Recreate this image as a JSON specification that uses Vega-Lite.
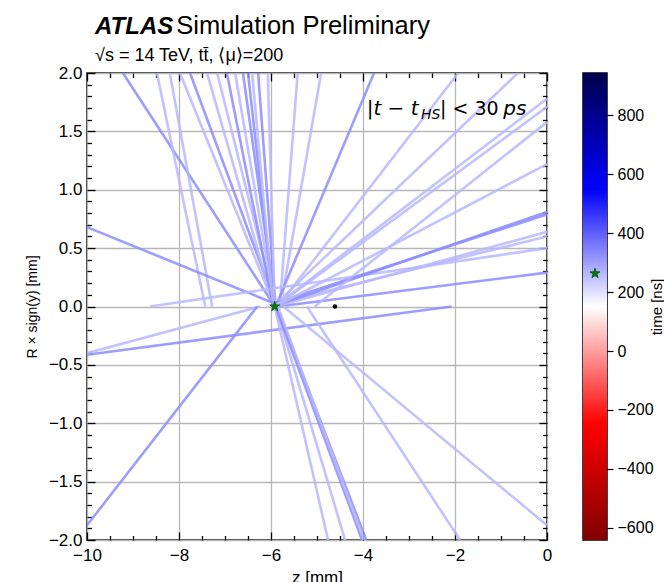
{
  "$schema": "https://vega.github.io/schema/vega-lite/v6.json",
  "background": "white",
  "padding": {"left": 24, "top": 13, "right": 0, "bottom": 0},
  "autosize": {"type": "pad"},
  "config": {
    "font": "Liberation Sans",
    "view": {"stroke": "black", "strokeWidth": 1.5},
    "axis": {"labelFont": "Liberation Sans", "titleFont": "Liberation Sans", "labelColor": "black", "titleColor": "black", "titleFontWeight": "normal"}
  },
  "datasets": {
    "tracks": [
      {"z1": -5.95, "r1": 0.02, "z2": -9.22, "r2": 2.0, "time": 330},
      {"z1": -7.43, "r1": 0.0, "z2": -8.48, "r2": 2.0, "time": 263},
      {"z1": -7.28, "r1": 0.0, "z2": -8.2, "r2": 2.0, "time": 263},
      {"z1": -5.95, "r1": 0.03, "z2": -7.98, "r2": 2.0, "time": 263},
      {"z1": -5.9, "r1": 0.02, "z2": -7.76, "r2": 2.0, "time": 330},
      {"z1": -5.95, "r1": 0.02, "z2": -7.39, "r2": 2.0, "time": 263},
      {"z1": -5.9, "r1": 0.0, "z2": -7.17, "r2": 2.0, "time": 263},
      {"z1": -5.95, "r1": 0.0, "z2": -6.96, "r2": 2.0, "time": 330},
      {"z1": -5.92, "r1": 0.0, "z2": -6.78, "r2": 2.0, "time": 263},
      {"z1": -5.9, "r1": 0.0, "z2": -6.61, "r2": 2.0, "time": 330},
      {"z1": -5.93, "r1": 0.0, "z2": -6.5, "r2": 2.0, "time": 330},
      {"z1": -5.95, "r1": 0.0, "z2": -6.41, "r2": 2.0, "time": 263},
      {"z1": -5.9, "r1": 0.0, "z2": -6.28, "r2": 2.0, "time": 330},
      {"z1": -5.92, "r1": 0.0, "z2": -6.07, "r2": 2.0, "time": 263},
      {"z1": -5.8, "r1": 0.05, "z2": -5.42, "r2": 2.0, "time": 263},
      {"z1": -5.75, "r1": 0.1, "z2": -4.91, "r2": 2.0, "time": 263},
      {"z1": -5.9, "r1": 0.0, "z2": -3.76, "r2": 2.0, "time": 330},
      {"z1": -5.85, "r1": 0.0, "z2": -1.93, "r2": 2.0, "time": 263},
      {"z1": -5.9, "r1": 0.02, "z2": -0.63, "r2": 2.0, "time": 263},
      {"z1": -10.0, "r1": 0.68, "z2": -5.95, "r2": 0.03, "time": 330},
      {"z1": -8.63, "r1": 0.0, "z2": 0.0, "r2": 0.5, "time": 263},
      {"z1": -5.85, "r1": 0.0, "z2": 0.0, "r2": 0.29, "time": 330},
      {"z1": -5.95, "r1": 0.02, "z2": 0.0, "r2": 0.6, "time": 263},
      {"z1": -5.9, "r1": 0.0, "z2": 0.0, "r2": 0.64, "time": 263},
      {"z1": -5.95, "r1": 0.0, "z2": 0.0, "r2": 0.81, "time": 330},
      {"z1": -5.9, "r1": 0.03, "z2": 0.0, "r2": 0.79, "time": 330},
      {"z1": -5.9, "r1": 0.0, "z2": 0.0, "r2": 1.22, "time": 263},
      {"z1": -5.05, "r1": 0.0, "z2": 0.0, "r2": 1.58, "time": 263},
      {"z1": -5.9, "r1": 0.0, "z2": 0.0, "r2": 1.71, "time": 263},
      {"z1": -5.92, "r1": 0.0, "z2": 0.0, "r2": 1.78, "time": 263},
      {"z1": -10.0, "r1": -0.413, "z2": -2.07, "r2": 0.0, "time": 330},
      {"z1": -10.0, "r1": -0.4, "z2": -6.24, "r2": 0.0, "time": 263},
      {"z1": -10.0, "r1": -1.874, "z2": -6.3, "r2": 0.0, "time": 330},
      {"z1": -5.92, "r1": 0.0, "z2": -4.76, "r2": -2.0, "time": 263},
      {"z1": -5.9, "r1": 0.0, "z2": -4.39, "r2": -2.0, "time": 263},
      {"z1": -5.9, "r1": 0.0, "z2": -4.02, "r2": -2.0, "time": 330},
      {"z1": -5.88, "r1": 0.0, "z2": -3.93, "r2": -2.0, "time": 330},
      {"z1": -5.85, "r1": 0.0, "z2": -3.98, "r2": -2.0, "time": 263},
      {"z1": -5.22, "r1": 0.0, "z2": -1.89, "r2": -2.0, "time": 263},
      {"z1": -5.73, "r1": 0.0, "z2": 0.0, "r2": -1.874, "time": 263}
    ],
    "vertex": [{"z": -4.61, "r": 0.0}],
    "hs": [{"z": -5.92, "r": 0.0, "time": 263}],
    "cbar": [{"lo": -641, "hi": 943}]
  },
  "hconcat": [
    {
      "width": 460,
      "height": 467,
      "layer": [
        {
          "data": {"name": "tracks"},
          "mark": {"type": "rule", "strokeWidth": 2.6, "opacity": 0.85, "clip": true, "strokeCap": "butt"},
          "encoding": {
            "x": {
              "field": "z1", "type": "quantitative",
              "scale": {"domain": [-10, 0], "nice": false, "zero": false},
              "axis": {
                "orient": "bottom",
                "values": [-10, -9.5, -9, -8.5, -8, -7.5, -7, -6.5, -6, -5.5, -5, -4.5, -4, -3.5, -3, -2.5, -2, -1.5, -1, -0.5, 0],
                "labelExpr": "datum.value % 2 === 0 ? format(datum.value, 'd') : ''",
                "tickSize": {"condition": {"test": "datum.value % 2 === 0", "value": -8}, "value": -4.5},
                "grid": true,
                "gridOpacity": {"condition": {"test": "datum.value % 2 === 0", "value": 1}, "value": 0},
                "gridColor": "#b8b8b8", "gridWidth": 1.3,
                "domain": false, "tickColor": "black", "tickWidth": 1.3,
                "labelFontSize": 17, "labelPadding": 15, "labelOverlap": false, "labelFlush": false,
                "title": "z [mm]", "titleFontSize": 17, "titlePadding": 3
              }
            },
            "y": {
              "field": "r1", "type": "quantitative",
              "scale": {"domain": [-2, 2], "nice": false, "zero": false},
              "axis": {
                "orient": "left",
                "values": [-2, -1.9, -1.8, -1.7, -1.6, -1.5, -1.4, -1.3, -1.2, -1.1, -1, -0.9, -0.8, -0.7, -0.6, -0.5, -0.4, -0.3, -0.2, -0.1, 0, 0.1, 0.2, 0.3, 0.4, 0.5, 0.6, 0.7, 0.8, 0.9, 1, 1.1, 1.2, 1.3, 1.4, 1.5, 1.6, 1.7, 1.8, 1.9, 2],
                "labelExpr": "datum.value % 0.5 === 0 ? format(datum.value, '.1f') : ''",
                "tickSize": {"condition": {"test": "datum.value % 0.5 === 0", "value": -8}, "value": -4.5},
                "grid": true,
                "gridOpacity": {"condition": {"test": "datum.value % 0.5 === 0", "value": 1}, "value": 0},
                "gridColor": "#b8b8b8", "gridWidth": 1.3,
                "domain": false, "tickColor": "black", "tickWidth": 1.3,
                "labelFontSize": 17, "labelPadding": 13, "labelOverlap": false, "labelFlush": false,
                "title": "R × sign(y) [mm]", "titleFontSize": 14, "titlePadding": 9
              }
            },
            "x2": {"field": "z2"},
            "y2": {"field": "r2"},
            "color": {
              "field": "time", "type": "quantitative",
              "scale": {"domain": [-641, -245, 151, 547, 943], "range": ["#800000", "#ff0000", "#ffffff", "#0000ff", "#00004c"], "interpolate": "rgb"},
              "legend": null
            }
          }
        },
        {
          "data": {"name": "vertex"},
          "mark": {"type": "point", "filled": true, "color": "black", "size": 22, "opacity": 1},
          "encoding": {
            "x": {
              "field": "z", "type": "quantitative",
              "scale": {"domain": [-10, 0], "nice": false, "zero": false},
              "axis": {
                "orient": "top",
                "values": [-10, -9.5, -9, -8.5, -8, -7.5, -7, -6.5, -6, -5.5, -5, -4.5, -4, -3.5, -3, -2.5, -2, -1.5, -1, -0.5, 0],
                "labels": false, "grid": false, "domain": false, "title": null,
                "tickSize": {"condition": {"test": "datum.value % 2 === 0", "value": -8}, "value": -4.5},
                "tickColor": "black", "tickWidth": 1.3
              }
            },
            "y": {
              "field": "r", "type": "quantitative",
              "scale": {"domain": [-2, 2], "nice": false, "zero": false},
              "axis": {
                "orient": "right",
                "values": [-2, -1.9, -1.8, -1.7, -1.6, -1.5, -1.4, -1.3, -1.2, -1.1, -1, -0.9, -0.8, -0.7, -0.6, -0.5, -0.4, -0.3, -0.2, -0.1, 0, 0.1, 0.2, 0.3, 0.4, 0.5, 0.6, 0.7, 0.8, 0.9, 1, 1.1, 1.2, 1.3, 1.4, 1.5, 1.6, 1.7, 1.8, 1.9, 2],
                "labels": false, "grid": false, "domain": false, "title": null,
                "tickSize": {"condition": {"test": "datum.value % 0.5 === 0", "value": -8}, "value": -4.5},
                "tickColor": "black", "tickWidth": 1.3
              }
            }
          }
        },
        {
          "data": {"name": "hs"},
          "mark": {"type": "point", "shape": "M0,-1L0.2245,-0.309L0.9511,-0.309L0.3633,0.118L0.5878,0.809L0,0.382L-0.5878,0.809L-0.3633,0.118L-0.9511,-0.309L-0.2245,-0.309Z", "filled": true, "fill": "#008000", "stroke": "#004d00", "strokeWidth": 0.8, "size": 110, "opacity": 1},
          "encoding": {
            "x": {"field": "z", "type": "quantitative", "scale": {"domain": [-10, 0], "nice": false, "zero": false}, "axis": null},
            "y": {"field": "r", "type": "quantitative", "scale": {"domain": [-2, 2], "nice": false, "zero": false}, "axis": null}
          }
        },
        {
          "data": {"values": [{}]},
          "mark": {"type": "text", "text": "ATLAS", "font": "Liberation Sans", "fontSize": 24, "fontWeight": "bold", "fontStyle": "italic", "align": "left", "baseline": "alphabetic", "color": "black", "clip": false},
          "encoding": {"x": {"datum": -9.826, "type": "quantitative", "axis": null}, "y": {"datum": 2.331, "type": "quantitative", "axis": null}}
        },
        {
          "data": {"values": [{}]},
          "mark": {"type": "text", "text": "Simulation Preliminary", "font": "Liberation Sans", "fontSize": 25.5, "align": "left", "baseline": "alphabetic", "color": "black", "clip": false},
          "encoding": {"x": {"datum": -8.06, "type": "quantitative", "axis": null}, "y": {"datum": 2.331, "type": "quantitative", "axis": null}}
        },
        {
          "data": {"values": [{}]},
          "mark": {"type": "text", "text": "√s = 14 TeV, tt̄, ⟨μ⟩=200", "font": "Liberation Sans", "fontSize": 18, "align": "left", "baseline": "alphabetic", "color": "black", "clip": false},
          "encoding": {"x": {"datum": -9.826, "type": "quantitative", "axis": null}, "y": {"datum": 2.105, "type": "quantitative", "axis": null}}
        },
        {
          "data": {"values": [{}]},
          "mark": {"type": "text", "text": "|t − t", "font": "DejaVu Sans", "fontSize": 20, "fontStyle": "italic", "align": "left", "baseline": "alphabetic", "color": "black"},
          "encoding": {"x": {"datum": -3.92, "type": "quantitative", "axis": null}, "y": {"datum": 1.638, "type": "quantitative", "axis": null}}
        },
        {
          "data": {"values": [{}]},
          "mark": {"type": "text", "text": "HS", "font": "DejaVu Sans", "fontSize": 14, "fontStyle": "italic", "align": "left", "baseline": "alphabetic", "color": "black"},
          "encoding": {"x": {"datum": -2.739, "type": "quantitative", "axis": null}, "y": {"datum": 1.603, "type": "quantitative", "axis": null}}
        },
        {
          "data": {"values": [{}]},
          "mark": {"type": "text", "text": "| < 30", "font": "DejaVu Sans", "fontSize": 19, "align": "left", "baseline": "alphabetic", "color": "black"},
          "encoding": {"x": {"datum": -2.326, "type": "quantitative", "axis": null}, "y": {"datum": 1.638, "type": "quantitative", "axis": null}}
        },
        {
          "data": {"values": [{}]},
          "mark": {"type": "text", "text": "ps", "font": "DejaVu Sans", "fontSize": 20, "fontStyle": "italic", "align": "left", "baseline": "alphabetic", "color": "black"},
          "encoding": {"x": {"datum": -0.95, "type": "quantitative", "axis": null}, "y": {"datum": 1.638, "type": "quantitative", "axis": null}}
        }
      ],
      "resolve": {"axis": {"x": "independent", "y": "independent"}}
    },
    {
      "width": 24,
      "height": 467,
      "layer": [
        {
          "data": {"name": "cbar"},
          "mark": {"type": "rect", "fill": {"gradient": "linear", "x1": 0, "y1": 1, "x2": 0, "y2": 0, "stops": [{"offset": 0, "color": "#800000"}, {"offset": 0.25, "color": "#ff0000"}, {"offset": 0.5, "color": "#ffffff"}, {"offset": 0.75, "color": "#0000ff"}, {"offset": 1, "color": "#00004c"}]}},
          "encoding": {
            "x": {"datum": 0, "type": "quantitative", "scale": {"domain": [0, 1], "nice": false, "zero": false}, "axis": null},
            "x2": {"datum": 1},
            "y": {
              "field": "lo", "type": "quantitative",
              "scale": {"domain": [-641, 943], "nice": false, "zero": false},
              "axis": {
                "orient": "right",
                "values": [-600, -400, -200, 0, 200, 400, 600, 800],
                "domain": false, "grid": false, "tickSize": 6, "tickColor": "black", "tickWidth": 1.2,
                "labelFontSize": 16, "labelPadding": 4, "labelOverlap": false, "labelFlush": false,
                "title": "time [ns]", "titleAngle": 270, "titleFontSize": 15, "titlePadding": 11
              }
            },
            "y2": {"field": "hi"}
          }
        },
        {
          "data": {"name": "hs"},
          "mark": {"type": "point", "shape": "M0,-1L0.2245,-0.309L0.9511,-0.309L0.3633,0.118L0.5878,0.809L0,0.382L-0.5878,0.809L-0.3633,0.118L-0.9511,-0.309L-0.2245,-0.309Z", "filled": true, "fill": "#008000", "stroke": "#004d00", "strokeWidth": 0.8, "size": 110, "opacity": 1},
          "encoding": {
            "x": {"datum": 0.5, "type": "quantitative", "scale": {"domain": [0, 1], "nice": false, "zero": false}, "axis": null},
            "y": {"field": "time", "type": "quantitative", "scale": {"domain": [-641, 943], "nice": false, "zero": false}}
          }
        }
      ]
    }
  ],
  "spacing": 29
}
